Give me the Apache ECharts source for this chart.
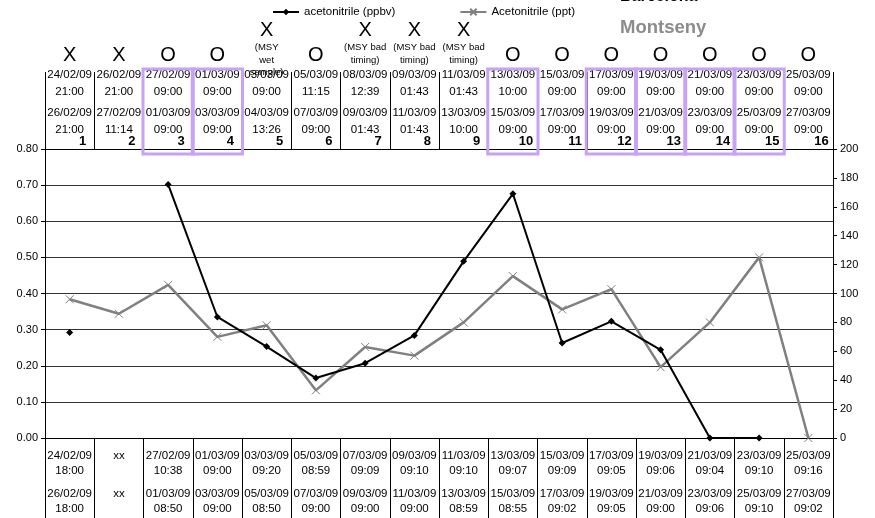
<!DOCTYPE html>
<html><head><meta charset="utf-8">
<script src="https://cdn.jsdelivr.net/npm/echarts@6/dist/echarts.min.js"></script>
<style>html,body{margin:0;padding:0;background:#fff}#c{width:875px;height:518px}</style>
</head><body><div id="c"></div>
<script>
const categories = ['1','2','3','4','5','6','7','8','9','10','11','12','13','14','15','16'];
const ppbv = [0.292, null, 0.702, 0.335, 0.253, 0.166, 0.207, 0.284, 0.489, 0.676, 0.263, 0.323, 0.244, 0, 0, null];
const ppt = [96, 86, 106, 70, 78, 33, 63, 57, 80, 112, 89, 103, 49, 80, 125, 0];
const flags = ['X','X','O','O','X','O','X','X','X','O','O','O','O','O','O','O'];
const flagNotes = ['','','','','(MSY\nwet\nsample)','','(MSY bad\ntiming)','(MSY bad\ntiming)','(MSY bad\ntiming)','','','','','','',''];
const boxed = ['3','4','10','12','13','14','15'];
const mtyStartDate = ['24/02/09','26/02/09','27/02/09','01/03/09','03/03/09','05/03/09','08/03/09','09/03/09','11/03/09','13/03/09','15/03/09','17/03/09','19/03/09','21/03/09','23/03/09','25/03/09'];
const mtyStartTime = ['21:00','21:00','09:00','09:00','09:00','11:15','12:39','01:43','01:43','10:00','09:00','09:00','09:00','09:00','09:00','09:00'];
const mtyEndDate = ['26/02/09','27/02/09','01/03/09','03/03/09','04/03/09','07/03/09','09/03/09','11/03/09','13/03/09','15/03/09','17/03/09','19/03/09','21/03/09','23/03/09','25/03/09','27/03/09'];
const mtyEndTime = ['21:00','11:14','09:00','09:00','13:26','09:00','01:43','01:43','10:00','09:00','09:00','09:00','09:00','09:00','09:00','09:00'];
const bcnStartDate = ['24/02/09','xx','27/02/09','01/03/09','03/03/09','05/03/09','07/03/09','09/03/09','11/03/09','13/03/09','15/03/09','17/03/09','19/03/09','21/03/09','23/03/09','25/03/09'];
const bcnStartTime = ['18:00','','10:38','09:00','09:20','08:59','09:09','09:10','09:10','09:07','09:09','09:05','09:06','09:04','09:10','09:16'];
const bcnEndDate = ['26/02/09','xx','01/03/09','03/03/09','05/03/09','07/03/09','09/03/09','11/03/09','13/03/09','15/03/09','17/03/09','19/03/09','21/03/09','23/03/09','25/03/09','27/03/09'];
const bcnEndTime = ['18:00','','08:50','09:00','08:50','09:00','09:00','09:00','08:59','08:55','09:02','09:05','09:00','09:06','09:10','09:02'];
const leftTicks = {min: 0, max: 0.8, interval: 0.1};
const rightTicks = {min: 0, max: 200, interval: 20};

const FONT = '"Liberation Sans", Arial, sans-serif';
const chart = echarts.init(document.getElementById('c'), null, {renderer: 'canvas'});

function hidden(extra) {
  return Object.assign({
    type: 'category', data: categories, gridIndex: 0, boundaryGap: true,
    axisLine: {show: false, onZero: false}, axisTick: {show: false}, splitLine: {show: false}
  }, extra);
}
const labelBase = {interval: 0, hideOverlap: false, color: '#000', fontFamily: FONT, fontSize: 11.5};

const option = {
  animation: false,
  backgroundColor: '#fff',
  textStyle: {fontFamily: FONT},
  title: [
    {text: 'Barcelona', left: 620, top: -11, padding: 0, textStyle: {fontFamily: FONT, fontSize: 16, fontWeight: 'bold', color: '#000'}},
    {text: 'Montseny', left: 620, top: 18, padding: 0, textStyle: {fontFamily: FONT, fontSize: 18.5, fontWeight: 'bold', color: '#8c8c8c'}}
  ],
  legend: {
    left: 272, top: 6, padding: 0, itemWidth: 26, itemHeight: 8, itemGap: 64,
    textStyle: {fontFamily: FONT, fontSize: 11.5, color: '#000'},
    data: ['acetonitrile (ppbv)', 'Acetonitrile (ppt)']
  },
  grid: {left: 45, right: 42, top: 149, bottom: 80, containLabel: false},
  xAxis: [
    hidden({position: 'top', axisLine: {show: true, onZero: false, lineStyle: {color: '#000', width: 1}},
      axisTick: {show: true, length: 77, lineStyle: {color: '#000', width: 1}},
      axisLabel: Object.assign({}, labelBase, {margin: 1, fontSize: 13, fontWeight: 'bold',
        formatter: v => '{n|' + v + '}',
        rich: {n: {fontFamily: FONT, fontSize: 13, fontWeight: 'bold', color: '#000', padding: [0, 0, 0, 26]}}})}),
    hidden({position: 'top', axisLabel: Object.assign({}, labelBase, {margin: 11, lineHeight: 17,
      formatter: (v, i) => mtyEndDate[i] + '\n' + mtyEndTime[i]})}),
    hidden({position: 'top', axisLabel: Object.assign({}, labelBase, {margin: 49, lineHeight: 17,
      formatter: (v, i) => mtyStartDate[i] + '\n' + mtyStartTime[i]})}),
    hidden({position: 'top', axisLabel: Object.assign({}, labelBase, {margin: 70,
      formatter: (v, i) => {
        const notes = flagNotes[i] ? flagNotes[i].split('\n') : [];
        let s = '{big|' + flags[i] + '}';
        notes.forEach(n => { s += '\n{note|' + n + '}'; });
        if (notes.length === 0) s += '\n{note| }';
        else for (let k = notes.length; k < 3; k++) s += '\n{note| }';
        return s;
      },
      rich: {
        big: {fontFamily: FONT, fontSize: 20, lineHeight: 23, color: '#000'},
        note: {fontFamily: FONT, fontSize: 9.5, lineHeight: 12.5, color: '#000'}
      }})}),
    hidden({position: 'bottom', axisLine: {show: true, onZero: false, lineStyle: {color: '#000', width: 1}},
      axisTick: {show: true, length: 80, lineStyle: {color: '#000', width: 1}},
      axisLabel: Object.assign({}, labelBase, {margin: 10, lineHeight: 15,
        formatter: (v, i) => bcnStartDate[i] + '\n' + (bcnStartTime[i] || ' ')})}),
    hidden({position: 'bottom', axisLabel: Object.assign({}, labelBase, {margin: 48, lineHeight: 15,
      formatter: (v, i) => bcnEndDate[i] + '\n' + (bcnEndTime[i] || ' ')})})
  ],
  yAxis: [
    {type: 'value', position: 'left', min: leftTicks.min, max: leftTicks.max, interval: leftTicks.interval,
      axisLine: {show: true, onZero: false, lineStyle: {color: '#000'}},
      axisTick: {show: true, length: 4, lineStyle: {color: '#000'}},
      axisLabel: {color: '#000', fontFamily: FONT, fontSize: 11, margin: 7, formatter: v => v.toFixed(2)},
      splitLine: {show: true, lineStyle: {color: '#333', width: 1}}},
    {type: 'value', position: 'right', min: rightTicks.min, max: rightTicks.max, interval: rightTicks.interval,
      axisLine: {show: true, onZero: false, lineStyle: {color: '#000'}},
      axisTick: {show: true, length: 4, lineStyle: {color: '#000'}},
      axisLabel: {color: '#000', fontFamily: FONT, fontSize: 11, margin: 7},
      splitLine: {show: false}}
  ],
  series: [
    {name: 'acetonitrile (ppbv)', type: 'line', xAxisIndex: 0, yAxisIndex: 0, data: ppbv,
      connectNulls: false, symbol: 'diamond', symbolSize: 7, showAllSymbol: true,
      lineStyle: {color: '#000', width: 2}, itemStyle: {color: '#000'}, z: 3},
    {name: 'Acetonitrile (ppt)', type: 'line', xAxisIndex: 0, yAxisIndex: 1, data: ppt,
      symbol: 'path://M0,0L10,10M10,0L0,10', symbolSize: 8, showAllSymbol: true,
      lineStyle: {color: '#808080', width: 2.5},
      itemStyle: {color: 'none', borderColor: '#808080', borderWidth: 1}, z: 2}
  ]
};
chart.setOption(option);

// purple highlight boxes around selected sampling periods (positions from the category axis)
const band = chart.convertToPixel({xAxisIndex: 0}, '2') - chart.convertToPixel({xAxisIndex: 0}, '1');
const topY = chart.convertToPixel({yAxisIndex: 0}, leftTicks.max);
chart.setOption({
  graphic: boxed.map(c => {
    const cx = chart.convertToPixel({xAxisIndex: 0}, c);
    return {type: 'rect', z: 10, silent: true,
      shape: {x: cx - band / 2 - 0.5, y: topY - 80, width: band + 1, height: 85},
      style: {fill: 'none', stroke: '#c8a2f4', lineWidth: 3}};
  })
});
</script></body></html>
